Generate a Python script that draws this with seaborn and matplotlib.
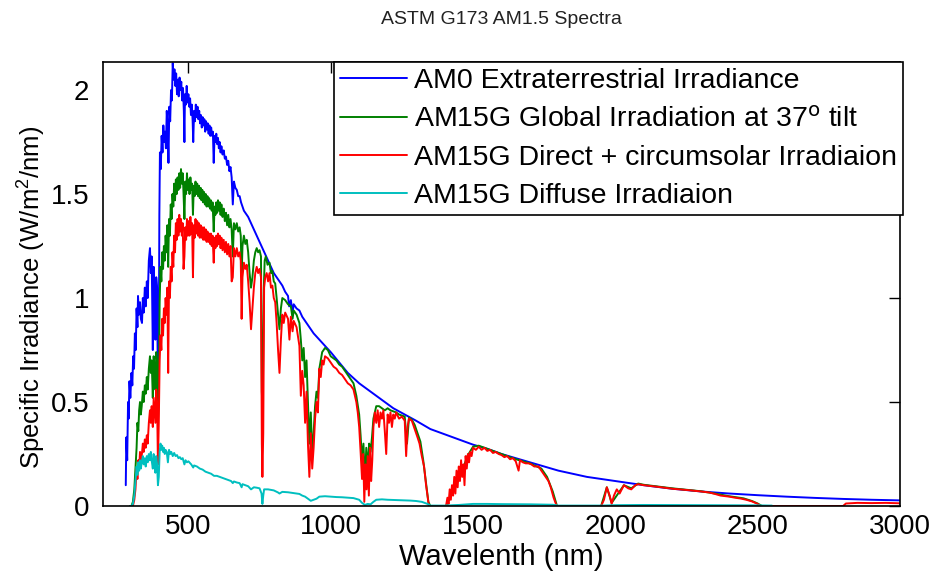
import matplotlib

matplotlib.use("Agg")
import matplotlib.pyplot as plt
import pandas as pd
import seaborn as sns

###############
# DATA        #
###############
# (wavelength nm, irradiance W/m^2/nm)
AM0 = [
    (280, 0.10), (282, 0.33), (285, 0.22), (288, 0.50), (290, 0.42), (293, 0.60), (296, 0.52), (300, 0.64),
    (303, 0.58), (306, 0.72), (309, 0.66), (312, 0.83), (315, 0.75), (318, 0.95), (321, 0.86), (323, 1.01),
    (326, 0.92), (330, 0.98), (333, 0.90), (337, 0.88), (340, 1.00), (343, 0.93), (347, 1.05), (350, 0.96),
    (354, 1.08), (357, 1.00), (361, 1.18), (365, 1.24), (368, 1.12), (371, 1.20), (375, 0.75), (378, 1.15),
    (381, 1.02), (384, 0.80), (387, 1.10), (390, 1.05), (393, 0.55), (396, 0.70), (398, 1.40), (400, 1.70),
    (403, 1.62), (406, 1.78), (409, 1.70), (412, 1.83), (415, 1.75), (418, 1.80), (421, 1.72), (424, 1.90),
    (427, 1.82), (430, 1.65), (433, 1.92), (436, 1.85), (439, 2.00), (442, 1.95), (445, 2.13), (448, 2.05),
    (451, 2.10), (454, 2.02), (457, 2.08), (460, 1.98), (463, 2.05), (466, 1.97), (469, 2.06), (472, 2.00),
    (475, 2.04), (478, 1.95), (481, 2.01), (484, 1.90), (486, 1.75), (488, 1.98), (491, 1.93), (494, 2.02),
    (497, 1.94), (500, 1.98), (503, 1.92), (506, 1.96), (509, 1.88), (512, 1.93), (515, 1.85), (517, 1.75),
    (520, 1.90), (523, 1.85), (526, 1.93), (529, 1.87), (532, 1.92), (535, 1.86), (538, 1.90), (541, 1.84),
    (544, 1.88), (547, 1.82), (550, 1.87), (553, 1.83), (556, 1.86), (559, 1.80), (562, 1.85), (565, 1.81),
    (568, 1.84), (571, 1.79), (574, 1.83), (577, 1.78), (580, 1.82), (583, 1.78), (586, 1.80), (589, 1.65),
    (592, 1.78), (595, 1.75), (598, 1.79), (601, 1.74), (604, 1.77), (607, 1.72), (610, 1.75), (613, 1.70),
    (616, 1.73), (620, 1.69), (624, 1.71), (628, 1.67), (632, 1.68), (636, 1.64), (640, 1.66), (644, 1.61),
    (648, 1.63), (652, 1.58), (656, 1.45), (660, 1.56), (665, 1.53), (670, 1.52), (675, 1.49), (680, 1.49),
    (685, 1.46), (690, 1.44), (695, 1.42), (700, 1.41), (710, 1.39), (720, 1.36), (730, 1.33), (740, 1.30),
    (750, 1.27), (760, 1.24), (770, 1.21), (780, 1.18), (790, 1.15), (800, 1.12), (810, 1.10), (820, 1.08),
    (830, 1.06), (840, 1.03), (850, 1.01), (854, 0.96), (860, 0.99), (866, 0.93), (870, 0.97), (880, 0.95),
    (890, 0.94), (900, 0.91), (920, 0.87), (940, 0.83), (960, 0.80), (980, 0.77), (1000, 0.74), (1030, 0.69),
    (1060, 0.64), (1100, 0.59), (1140, 0.55), (1180, 0.51), (1220, 0.47), (1260, 0.44), (1300, 0.41),
    (1350, 0.37), (1400, 0.345), (1450, 0.32), (1500, 0.295), (1550, 0.275), (1600, 0.25), (1650, 0.23),
    (1700, 0.21), (1750, 0.19), (1800, 0.17), (1850, 0.155), (1900, 0.14), (1950, 0.13), (2000, 0.12),
    (2100, 0.10), (2200, 0.083), (2300, 0.07), (2400, 0.06), (2500, 0.052), (2600, 0.045), (2700, 0.039),
    (2800, 0.034), (2900, 0.03), (3000, 0.027),
]

GLOBAL_TILT = [
    (295, 0.0), (300, 0.0), (305, 0.02), (310, 0.08), (314, 0.18), (318, 0.28), (321, 0.40), (324, 0.36),
    (327, 0.46), (330, 0.50), (333, 0.44), (336, 0.48), (340, 0.55), (343, 0.50), (347, 0.58), (350, 0.54),
    (354, 0.62), (357, 0.56), (361, 0.66), (365, 0.72), (368, 0.64), (371, 0.70), (375, 0.52), (378, 0.72),
    (381, 0.66), (384, 0.56), (387, 0.74), (390, 0.70), (393, 0.40), (396, 0.55), (399, 0.98), (402, 1.15),
    (405, 1.08), (408, 1.22), (411, 1.14), (414, 1.25), (417, 1.18), (420, 1.30), (423, 1.22), (426, 1.35),
    (429, 1.15), (432, 1.38), (435, 1.30), (438, 1.45), (441, 1.38), (444, 1.50), (447, 1.44), (450, 1.55),
    (453, 1.47), (456, 1.57), (459, 1.50), (462, 1.58), (465, 1.52), (468, 1.60), (471, 1.53), (474, 1.62),
    (477, 1.55), (480, 1.60), (483, 1.50), (486, 1.38), (489, 1.56), (492, 1.50), (495, 1.60), (498, 1.52),
    (501, 1.57), (504, 1.50), (507, 1.58), (510, 1.52), (513, 1.55), (516, 1.40), (519, 1.54), (522, 1.49),
    (525, 1.56), (528, 1.50), (531, 1.55), (534, 1.49), (537, 1.54), (540, 1.48), (543, 1.53), (546, 1.47),
    (549, 1.52), (552, 1.46), (555, 1.51), (558, 1.45), (561, 1.50), (564, 1.44), (567, 1.49), (570, 1.44),
    (573, 1.48), (576, 1.43), (579, 1.47), (582, 1.42), (585, 1.46), (589, 1.32), (592, 1.44), (595, 1.40),
    (598, 1.46), (601, 1.41), (604, 1.47), (607, 1.42), (610, 1.46), (613, 1.40), (616, 1.45), (620, 1.39),
    (624, 1.43), (628, 1.37), (632, 1.41), (636, 1.35), (640, 1.40), (644, 1.34), (648, 1.38), (652, 1.33),
    (656, 1.20), (660, 1.36), (665, 1.33), (670, 1.36), (675, 1.32), (680, 1.34), (684, 1.30), (687, 1.10),
    (690, 1.25), (695, 1.30), (700, 1.26), (705, 1.28), (710, 1.22), (715, 1.12), (720, 1.05), (725, 1.10),
    (730, 1.18), (735, 1.22), (740, 1.24), (745, 1.22), (750, 1.23), (755, 1.20), (758, 0.55), (761, 0.45),
    (765, 1.05), (768, 1.18), (772, 1.20), (778, 1.16), (785, 1.17), (790, 1.12), (795, 1.13), (800, 1.08),
    (805, 1.07), (810, 1.00), (815, 0.92), (820, 0.85), (825, 0.95), (830, 1.00), (840, 0.99), (850, 0.97),
    (860, 0.96), (866, 0.90), (870, 0.94), (880, 0.92), (890, 0.88), (895, 0.80), (900, 0.70), (905, 0.76),
    (910, 0.62), (915, 0.70), (920, 0.50), (925, 0.30), (930, 0.45), (935, 0.25), (940, 0.35), (945, 0.48),
    (950, 0.55), (955, 0.52), (960, 0.66), (965, 0.70), (970, 0.74), (980, 0.76), (990, 0.75), (1000, 0.72),
    (1010, 0.71), (1020, 0.70), (1030, 0.68), (1040, 0.67), (1050, 0.65), (1060, 0.63), (1070, 0.61),
    (1080, 0.59), (1090, 0.53), (1100, 0.44), (1105, 0.34), (1110, 0.22), (1115, 0.30), (1120, 0.12),
    (1125, 0.28), (1130, 0.18), (1135, 0.30), (1140, 0.26), (1145, 0.33), (1150, 0.42), (1160, 0.48),
    (1170, 0.48), (1180, 0.47), (1190, 0.46), (1200, 0.47), (1210, 0.46), (1220, 0.455), (1230, 0.45),
    (1240, 0.44), (1250, 0.435), (1260, 0.43), (1268, 0.30), (1275, 0.425), (1285, 0.415), (1295, 0.39),
    (1305, 0.35), (1315, 0.31), (1325, 0.22), (1335, 0.11), (1343, 0.02), (1350, 0.0), (1405, 0.0),
    (1420, 0.04), (1440, 0.10), (1460, 0.16), (1480, 0.24), (1500, 0.285), (1520, 0.29), (1550, 0.275),
    (1600, 0.25), (1650, 0.225), (1700, 0.205), (1740, 0.18), (1760, 0.14), (1780, 0.07), (1795, 0.0),
    (1950, 0.0), (1970, 0.09), (1987, 0.015), (2030, 0.10), (2056, 0.085), (2080, 0.108), (2100, 0.102),
    (2200, 0.085), (2300, 0.071), (2350, 0.06), (2400, 0.047), (2450, 0.037), (2480, 0.024), (2500, 0.012),
    (2515, 0.0), (2550, 0.0),
]

DIRECT = [
    (300, 0.0), (305, 0.0), (310, 0.03), (314, 0.08), (318, 0.18), (321, 0.13), (324, 0.22), (327, 0.18),
    (330, 0.26), (333, 0.22), (336, 0.24), (340, 0.30), (343, 0.26), (347, 0.32), (350, 0.28), (354, 0.34),
    (357, 0.30), (361, 0.40), (365, 0.46), (368, 0.40), (371, 0.48), (375, 0.38), (378, 0.52), (381, 0.46),
    (384, 0.40), (387, 0.56), (390, 0.50), (393, 0.20), (396, 0.40), (399, 0.70), (402, 0.82), (405, 0.75),
    (408, 0.90), (411, 0.82), (414, 0.95), (417, 0.88), (420, 1.00), (423, 0.92), (426, 1.05), (429, 0.64),
    (432, 1.08), (435, 1.00), (438, 1.15), (441, 1.08), (444, 1.22), (447, 1.15), (450, 1.30), (453, 1.22),
    (456, 1.36), (459, 1.28), (462, 1.38), (465, 1.30), (468, 1.40), (471, 1.32), (474, 1.38), (477, 1.30),
    (480, 1.36), (483, 1.14), (486, 1.20), (489, 1.34), (492, 1.28), (495, 1.38), (498, 1.30), (501, 1.37),
    (504, 1.30), (507, 1.39), (510, 1.31), (513, 1.36), (516, 1.10), (519, 1.35), (522, 1.29), (525, 1.38),
    (528, 1.31), (531, 1.37), (534, 1.30), (537, 1.36), (540, 1.29), (543, 1.35), (546, 1.29), (549, 1.34),
    (552, 1.28), (555, 1.34), (558, 1.28), (561, 1.33), (564, 1.27), (567, 1.32), (570, 1.27), (573, 1.31),
    (576, 1.26), (579, 1.31), (582, 1.25), (585, 1.30), (589, 1.17), (592, 1.29), (595, 1.24), (598, 1.30),
    (601, 1.25), (604, 1.31), (607, 1.26), (610, 1.30), (613, 1.24), (616, 1.29), (620, 1.23), (624, 1.28),
    (628, 1.22), (632, 1.27), (636, 1.21), (640, 1.26), (644, 1.20), (648, 1.25), (652, 1.08), (656, 1.10),
    (660, 1.24), (665, 1.20), (670, 1.24), (675, 1.20), (680, 1.22), (684, 1.18), (687, 0.90), (690, 1.10),
    (695, 1.17), (700, 1.14), (705, 1.16), (710, 1.08), (715, 0.98), (720, 0.85), (725, 0.95), (730, 1.05),
    (735, 1.12), (740, 1.15), (745, 1.12), (750, 1.14), (755, 1.10), (758, 0.30), (760, 0.14), (763, 0.35),
    (766, 1.05), (770, 1.10), (775, 1.12), (780, 1.08), (785, 1.12), (790, 1.05), (795, 1.06), (800, 1.00),
    (805, 0.98), (810, 0.88), (815, 0.75), (820, 0.64), (825, 0.80), (830, 0.92), (835, 0.88), (840, 0.93),
    (850, 0.90), (855, 0.80), (860, 0.91), (866, 0.84), (870, 0.89), (880, 0.86), (890, 0.77), (895, 0.53),
    (900, 0.65), (905, 0.58), (910, 0.40), (915, 0.55), (920, 0.30), (925, 0.14), (930, 0.35), (935, 0.18),
    (940, 0.28), (945, 0.42), (950, 0.50), (955, 0.45), (960, 0.66), (965, 0.62), (970, 0.70), (975, 0.68),
    (980, 0.72), (990, 0.71), (1000, 0.69), (1010, 0.67), (1020, 0.66), (1030, 0.64), (1040, 0.63),
    (1050, 0.61), (1060, 0.59), (1070, 0.58), (1080, 0.56), (1090, 0.50), (1095, 0.45), (1100, 0.38),
    (1105, 0.26), (1110, 0.13), (1114, 0.25), (1118, 0.02), (1122, 0.20), (1126, 0.08), (1130, 0.24),
    (1134, 0.05), (1138, 0.28), (1142, 0.12), (1146, 0.22), (1150, 0.38), (1155, 0.45), (1160, 0.40),
    (1165, 0.46), (1170, 0.38), (1175, 0.45), (1180, 0.42), (1185, 0.46), (1190, 0.36), (1195, 0.25),
    (1200, 0.44), (1205, 0.40), (1210, 0.45), (1215, 0.38), (1220, 0.44), (1225, 0.42), (1230, 0.45),
    (1240, 0.42), (1250, 0.43), (1260, 0.41), (1265, 0.24), (1270, 0.38), (1275, 0.42), (1285, 0.41),
    (1295, 0.37), (1305, 0.33), (1312, 0.30), (1320, 0.24), (1328, 0.19), (1335, 0.10), (1339, 0.06),
    (1345, 0.0), (1405, 0.0), (1410, 0.04), (1414, 0.01), (1418, 0.08), (1422, 0.03), (1426, 0.10),
    (1430, 0.05), (1434, 0.14), (1438, 0.06), (1442, 0.17), (1446, 0.09), (1450, 0.19), (1454, 0.12),
    (1458, 0.22), (1462, 0.14), (1466, 0.20), (1470, 0.10), (1474, 0.24), (1478, 0.18), (1482, 0.25),
    (1486, 0.21), (1490, 0.26), (1495, 0.24), (1500, 0.28), (1510, 0.27), (1520, 0.285), (1530, 0.27),
    (1540, 0.28), (1550, 0.265), (1560, 0.27), (1570, 0.255), (1580, 0.26), (1590, 0.25), (1600, 0.245),
    (1610, 0.235), (1620, 0.24), (1630, 0.225), (1640, 0.23), (1650, 0.215), (1660, 0.17), (1665, 0.22),
    (1675, 0.21), (1685, 0.205), (1695, 0.205), (1705, 0.20), (1715, 0.19), (1730, 0.19), (1740, 0.17),
    (1755, 0.14), (1765, 0.12), (1773, 0.09), (1783, 0.04), (1794, 0.0), (1950, 0.0), (1960, 0.03),
    (1970, 0.09), (1980, 0.05), (1987, 0.01), (1995, 0.05), (2005, 0.08), (2015, 0.06), (2030, 0.10),
    (2045, 0.085), (2056, 0.08), (2070, 0.10), (2080, 0.105), (2100, 0.10), (2150, 0.092), (2200, 0.083),
    (2250, 0.077), (2300, 0.07), (2330, 0.065), (2350, 0.058), (2370, 0.05), (2400, 0.045), (2420, 0.04),
    (2440, 0.036), (2460, 0.03), (2480, 0.022), (2500, 0.01), (2510, 0.0), (2800, 0.0), (2810, 0.012),
    (2850, 0.015), (2900, 0.014), (2950, 0.015), (3000, 0.013),
]

DIFFUSE = [
    (295, 0.0), (300, 0.0), (305, 0.01), (310, 0.05), (314, 0.12), (318, 0.19), (321, 0.15), (324, 0.21),
    (327, 0.17), (330, 0.22), (333, 0.18), (336, 0.21), (340, 0.24), (343, 0.20), (347, 0.23), (350, 0.19),
    (354, 0.24), (357, 0.21), (361, 0.25), (365, 0.22), (368, 0.26), (371, 0.22), (375, 0.18), (378, 0.25),
    (381, 0.21), (384, 0.16), (387, 0.24), (390, 0.20), (393, 0.10), (396, 0.14), (399, 0.26), (402, 0.30),
    (405, 0.27), (408, 0.29), (411, 0.26), (414, 0.28), (417, 0.25), (420, 0.27), (424, 0.26), (428, 0.21),
    (432, 0.27), (436, 0.25), (440, 0.26), (445, 0.24), (450, 0.255), (455, 0.24), (460, 0.245), (465, 0.23),
    (470, 0.235), (475, 0.225), (480, 0.23), (486, 0.20), (490, 0.22), (495, 0.21), (500, 0.215), (510, 0.20),
    (517, 0.185), (520, 0.195), (530, 0.19), (540, 0.18), (550, 0.175), (560, 0.165), (570, 0.16),
    (580, 0.155), (590, 0.145), (600, 0.145), (610, 0.14), (620, 0.135), (630, 0.13), (640, 0.125),
    (650, 0.12), (656, 0.11), (660, 0.118), (670, 0.113), (680, 0.11), (687, 0.09), (690, 0.105),
    (700, 0.10), (710, 0.095), (720, 0.08), (730, 0.09), (740, 0.088), (750, 0.085), (757, 0.06),
    (760, 0.01), (763, 0.05), (766, 0.08), (780, 0.08), (800, 0.075), (815, 0.065), (820, 0.06),
    (830, 0.068), (850, 0.066), (870, 0.062), (890, 0.058), (900, 0.05), (910, 0.045), (920, 0.035),
    (930, 0.025), (940, 0.03), (950, 0.035), (960, 0.045), (980, 0.047), (1000, 0.045), (1020, 0.043),
    (1040, 0.042), (1060, 0.04), (1080, 0.038), (1100, 0.03), (1110, 0.015), (1120, 0.005), (1130, 0.01),
    (1140, 0.008), (1150, 0.02), (1160, 0.03), (1180, 0.032), (1200, 0.03), (1240, 0.028), (1280, 0.026),
    (1300, 0.024), (1320, 0.02), (1340, 0.01), (1350, 0.002), (1400, 0.002), (1450, 0.005), (1500, 0.01),
    (1550, 0.01), (1600, 0.009), (1700, 0.008), (1780, 0.006), (1800, 0.002), (1950, 0.002), (2000, 0.004),
    (2100, 0.005), (2300, 0.004), (2500, 0.003), (2550, 0.002),
]

SERIES_LABELS = [
    "AM0 Extraterrestrial Irradiance",
    r"AM15G Global Irradiation at 37$^\mathrm{o}$ tilt",
    "AM15G Direct + circumsolar Irradiaion",
    "AM15G Diffuse Irradiaion",
]
SERIES_COLORS = ["#0000FF", "#008000", "#FF0000", "#00BFBF"]
X_TICKS = [500, 1000, 1500, 2000, 2500, 3000]
Y_TICKS = [0, 0.5, 1, 1.5, 2]
Y_TICK_LABELS = ["0", "0.5", "1", "1.5", "2"]

################
# PLOT         #
################
FONT_SIZE = 20

sns.set_theme(style="white")
plt.rcParams["font.family"] = ["Liberation Sans", "DejaVu Sans"]
plt.rcParams["mathtext.default"] = "regular"
plt.rcParams["text.color"] = "black"
plt.rcParams["axes.labelcolor"] = "black"

rows = []
for label, pts in zip(SERIES_LABELS, [AM0, GLOBAL_TILT, DIRECT, DIFFUSE]):
    for nm, irr in pts:
        rows.append({"series": label, "nm": nm, "irr": irr})
df = pd.DataFrame(rows)

fig = plt.figure(figsize=(9.32, 5.74), dpi=100)
ax = fig.add_axes([103 / 932, 68 / 574, 797 / 932, 444 / 574])

sns.lineplot(
    data=df,
    x="nm",
    y="irr",
    hue="series",
    hue_order=SERIES_LABELS,
    palette=SERIES_COLORS,
    estimator=None,
    sort=False,
    lw=1.4,
    ax=ax,
)

ax.set_xlim(200, 3000)
ax.set_ylim(0, 2.135)
ax.set_xticks(X_TICKS)
ax.set_yticks(Y_TICKS)
ax.set_yticklabels(Y_TICK_LABELS)
ax.tick_params(
    direction="in", length=8, width=1, top=True, right=True,
    labelsize=FONT_SIZE, colors="black",
)
ax.tick_params(axis="y", pad=10)
ax.tick_params(axis="x", pad=6)
for spine in ax.spines.values():
    spine.set_color("black")
    spine.set_linewidth(1.2)

ax.set_xlabel("Wavelenth (nm)", fontsize=21, labelpad=2)
ax.set_ylabel("Specific Irradiance (W/m$^2$/nm)", fontsize=18.5)
ax.yaxis.set_label_coords(-0.069, 0.47)
ax.set_title("ASTM G173 AM1.5 Spectra", fontsize=14, pad=27, color="#222222")

handles, labels = ax.get_legend_handles_labels()
leg = ax.legend(
    handles, labels,
    loc="upper right", bbox_to_anchor=(1.004, 1.0), borderaxespad=0,
    fontsize=20.5, frameon=True, fancybox=False, edgecolor="black",
    framealpha=1, handlelength=2.35, handletextpad=0.25, labelspacing=0.43,
    borderpad=0.22,
)
leg.get_frame().set_linewidth(1.2)

fig.savefig("out.png", dpi=100)
